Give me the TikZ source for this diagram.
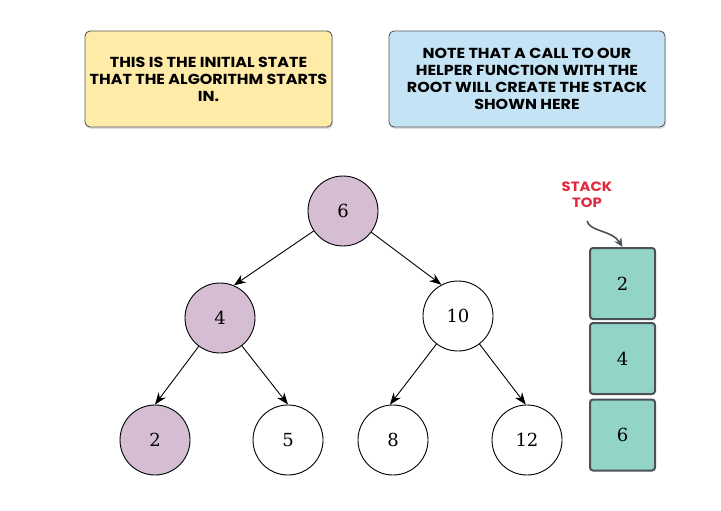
\documentclass[tikz,border=0pt]{standalone}
\usepackage{fontspec}
\setmainfont{DejaVu Serif}
\newfontfamily\comic{Poppins}[UprightFont=* Bold, FakeStretch=1.1]
\usetikzlibrary{arrows.meta,shadows}
\definecolor{noteyellow}{HTML}{FFEBA8}
\definecolor{noteblue}{HTML}{C4E4F6}
\definecolor{treepurple}{HTML}{D5BDD3}
\definecolor{stackteal}{HTML}{92D4C7}
\definecolor{stackborder}{HTML}{4A5159}
\definecolor{notered}{HTML}{E0293D}
\tikzset{
  note/.style={draw=black!65, line width=0.9pt, rounded corners=5pt, minimum height=96pt,
    inner xsep=2pt, align=center, font=\comic\fontsize{14.5}{17}\selectfont,
    drop shadow={opacity=0.25, shadow xshift=1pt, shadow yshift=-2pt}},
  tnode/.style={circle, draw=black, line width=0.9pt, minimum size=70pt, inner sep=0pt,
    font=\fontsize{18}{18}\selectfont},
  visited/.style={tnode, fill=treepurple},
  fresh/.style={tnode, fill=white},
  cell/.style={draw=stackborder, line width=2pt, rounded corners=3pt, fill=stackteal,
    minimum width=65pt, minimum height=71pt, inner sep=0pt, font=\fontsize{18}{18}\selectfont},
  edge/.style={-{Stealth[length=12pt,width=9pt]}, line width=0.9pt}
}
\begin{document}
\begin{tikzpicture}[x=1pt,y=-1pt]
\useasboundingbox (0,0) rectangle (721,511);
\node[note, fill=noteyellow, minimum width=247pt] (n1) at (208.5,79) {THIS IS THE INITIAL STATE\\THAT THE ALGORITHM STARTS\\IN.};
\node[note, fill=noteblue, minimum width=276pt] (n2) at (527,79) {NOTE THAT A CALL TO OUR\\HELPER FUNCTION WITH THE\\ROOT WILL CREATE THE STACK\\SHOWN HERE};

\node[visited] (r6) at (343,211) {6};
\node[visited] (a4) at (220,318) {4};
\node[fresh] (a10) at (458,316) {10};
\node[visited] (b2) at (155,440) {2};
\node[fresh] (b5) at (288,440) {5};
\node[fresh] (b8) at (393,440) {8};
\node[fresh] (b12) at (527,440) {12};

\draw[edge] (r6) -- (a4.67);
\draw[edge] (r6) -- (a10.118);
\draw[edge] (a4) -- (b2.north);
\draw[edge] (a4) -- (b5.north);
\draw[edge] (a10) -- (b8.95);
\draw[edge] (a10) -- (b12.92);

\node[cell] (s2) at (622.5,283.5) {2};
\node[cell] (s4) at (622.5,358.5) {4};
\node[cell] (s6) at (622.5,435) {6};

\node[text=notered, align=center, font=\comic\fontsize{13.5}{16}\selectfont] (st) at (587,195) {STACK\\TOP};
\coordinate (stend) at (587,221);
\draw[stackborder, line width=1.6pt, -{Stealth[length=9pt,width=8pt]}] (stend) .. controls (590,232) and (612,230) .. (s2.north);
\end{tikzpicture}
\end{document}
